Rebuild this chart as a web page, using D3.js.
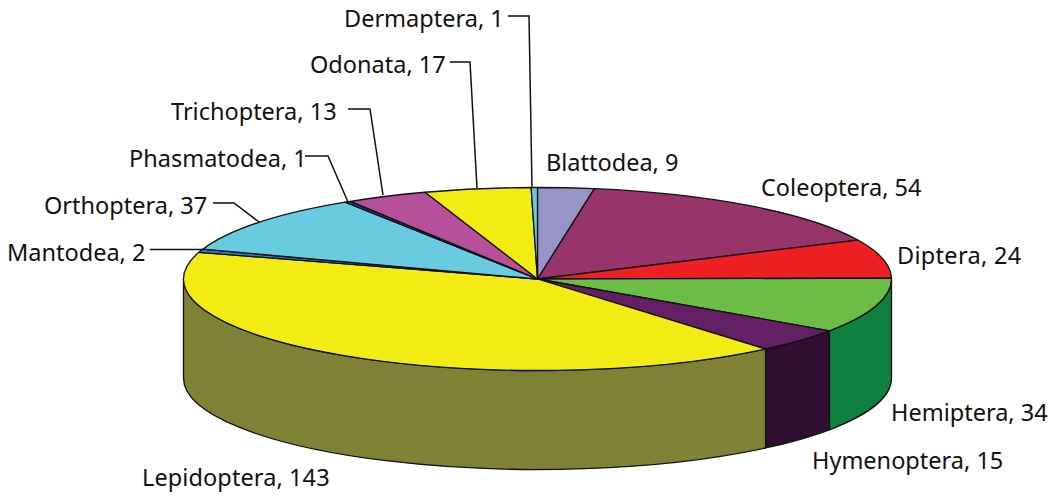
<!DOCTYPE html>
<html>
<head>
<meta charset="utf-8">
<script src="https://cdn.jsdelivr.net/npm/d3@7"></script>
<style>
  html, body { margin: 0; padding: 0; background: #fff; }
  svg { display: block; }
  text { font-family: "Noto Sans", sans-serif; font-size: 23.5px; fill: #111; }
</style>
</head>
<body>
<div id="chart"></div>
<script>
const orders = ['Blattodea','Coleoptera','Diptera','Hemiptera','Hymenoptera','Lepidoptera','Mantodea','Orthoptera','Phasmatodea','Trichoptera','Odonata','Dermaptera'];
const counts = [9,54,24,34,15,143,2,37,1,13,17,1];
const topColors = ['#9694c8','#973469','#ee2024','#6bbd45','#642065','#f3ec14','#2a7ac0','#69cbdf','#2b3990','#b6509b','#f3ec14','#69cbdf'];
const sideColors = ['#6d6b94','#6e244c','#a8161a','#0e8040','#2f0e2f','#7f8235','#1c5485','#4a90a0','#1c2666','#823770','#7f8235','#4a90a0'];

const width = 1060, height = 497;
const cx = 537.5, cy = 279, rx = 354, ry = 91.5, depth = 99;

// label anchor point + optional leader polyline (drawn from label to the rim)
const labelPos = {
  Blattodea:   {x: 546, y: 171, anchor: 'start'},
  Coleoptera:  {x: 761, y: 196, anchor: 'start'},
  Diptera:     {x: 897, y: 264, anchor: 'start', spacing: 0.3},
  Hemiptera:   {x: 891, y: 421, anchor: 'start'},
  Hymenoptera: {x: 812, y: 469, anchor: 'start'},
  Lepidoptera: {x: 142, y: 486, anchor: 'start', spacing: 0.1},
  Mantodea:    {x: 7,   y: 261, anchor: 'start', leader: [[150,249.5],[203,249.5]]},
  Orthoptera:  {x: 44,  y: 214, anchor: 'start', leader: [[213,203],[234,203],[259,222]]},
  Phasmatodea: {x: 129, y: 167, anchor: 'start', leader: [[305,156],[328,156],[348,202]]},
  Trichoptera: {x: 171, y: 120, anchor: 'start', leader: [[348,109],[370,109],[383,195]]},
  Odonata:     {x: 310, y: 73,  anchor: 'start', leader: [[450,62],[470,62],[477,188]]},
  Dermaptera:  {x: 344, y: 27,  anchor: 'start', leader: [[508,16],[529,16],[532,188]]}
};

const rows = orders.map((name, i) => ({name, count: counts[i], top: topColors[i], side: sideColors[i]}));
const slices = d3.pie().sort(null).value(d => d.count)(rows);

const svg = d3.select('#chart').append('svg')
    .attr('width', width)
    .attr('height', height);

function rim(a, dy) {
  return [cx + rx * Math.sin(a), cy - ry * Math.cos(a) + dy];
}

// outer wall of one slice, only the part facing the viewer
function wallPath(d) {
  const a0 = Math.max(d.startAngle, Math.PI / 2);
  const a1 = Math.min(d.endAngle, Math.PI * 3 / 2);
  if (a1 <= a0) return null;
  const p0 = rim(a0, 0), p1 = rim(a1, 0), p2 = rim(a1, depth), p3 = rim(a0, depth);
  return `M${p0}A${rx},${ry} 0 0 1 ${p1}L${p2}A${rx},${ry} 0 0 0 ${p3}Z`;
}

svg.append('g').selectAll('path')
  .data(slices.filter(d => wallPath(d)))
  .join('path')
    .attr('d', wallPath)
    .attr('fill', d => d.data.side)
    .attr('stroke', '#111')
    .attr('stroke-width', 1.3)
    .attr('stroke-linejoin', 'round');

const arc = d3.arc().innerRadius(0).outerRadius(rx);

svg.append('g')
    .attr('transform', `translate(${cx},${cy}) scale(1,${ry / rx})`)
  .selectAll('path')
  .data(slices)
  .join('path')
    .attr('d', arc)
    .attr('fill', d => d.data.top)
    .attr('stroke', '#111')
    .attr('stroke-width', 1.3)
    .attr('stroke-linejoin', 'round')
    .attr('vector-effect', 'non-scaling-stroke');

const line = d3.line();
svg.append('g').selectAll('path')
  .data(orders.filter(n => labelPos[n].leader))
  .join('path')
    .attr('d', n => line(labelPos[n].leader))
    .attr('fill', 'none')
    .attr('stroke', '#111')
    .attr('stroke-width', 1.5);

svg.append('g').selectAll('text')
  .data(rows)
  .join('text')
    .attr('x', d => labelPos[d.name].x)
    .attr('y', d => labelPos[d.name].y)
    .attr('text-anchor', d => labelPos[d.name].anchor)
    .attr('letter-spacing', d => labelPos[d.name].spacing || null)
    .text(d => `${d.name}, ${d.count}`);
</script>
</body>
</html>
